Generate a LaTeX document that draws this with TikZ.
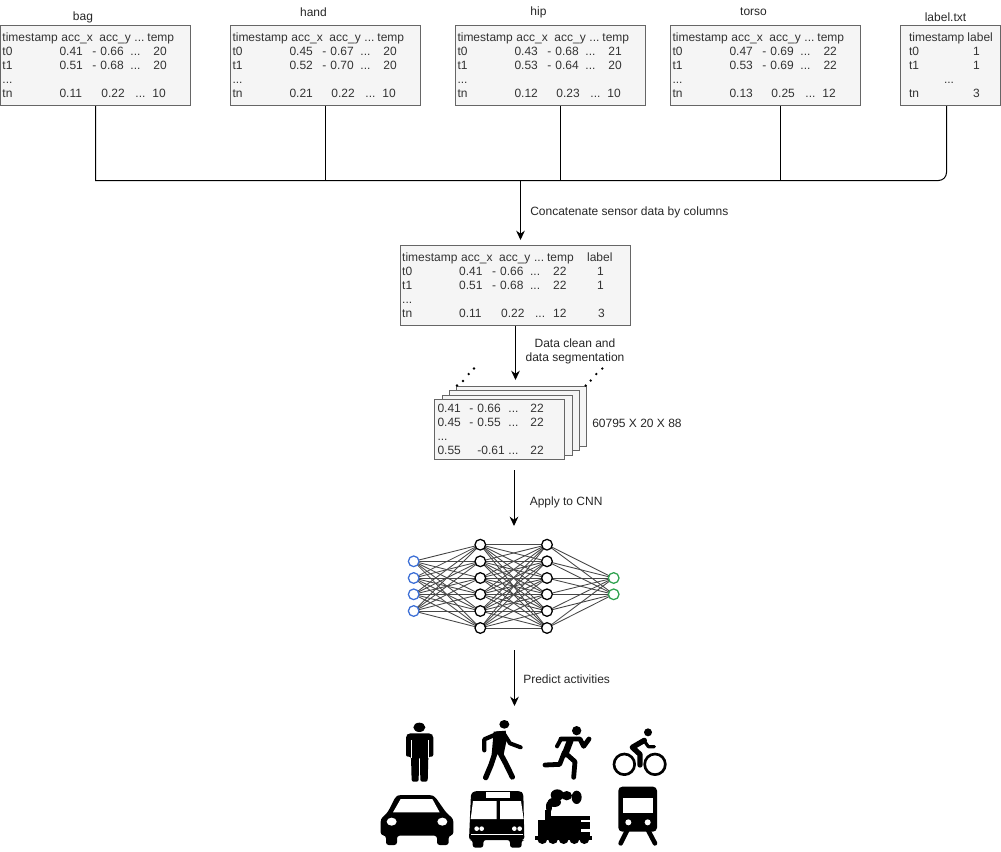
\documentclass[tikz,border=0pt]{standalone}
\usepackage{fontspec}
\setmainfont{Liberation Sans}
\usetikzlibrary{arrows.meta,calc}
\definecolor{inblue}{HTML}{3C6FD6}
\definecolor{outgreen}{HTML}{2FA24F}
\newdimen\pxu \pxu=.75pt
\newcommand\tp{\rule{0pt}{\dimexpr\ht\strutbox+2.25pt\relax}}
\newcommand\R[2]{\rlap{\hspace{#1\pxu}#2}}
\newcommand\hdr{\tp\strut\R{2}{timestamp}\R{61}{acc\_x}\R{99}{acc\_y}\R{134}{...}\R{147}{temp}}
\newcommand\vrow[4]{\strut\R{2}{#1}\R{59}{#2}\R{92}{#3}\R{130}{...}\R{153}{#4}}
\newcommand\trow[3]{\strut\R{2}{tn}\R{59}{#1}\R{101}{#2}\R{135}{...}\R{152}{#3}}
\newcommand\drow{\strut\R{2}{...}}
\newcommand\mhdr{\tp\strut\R{2}{timestamp}\R{61}{acc\_x}\R{99}{acc\_y}\R{134}{...}\R{147}{temp}\R{187}{label}}
\newcommand\mrow[5]{\strut\R{2}{#1}\R{59}{#2}\R{92}{#3}\R{130}{...}\R{153}{#4}\R{197}{#5}}
\newcommand\nrow[4]{\strut\R{2}{tn}\R{59}{#1}\R{101}{#2}\R{135}{...}\R{153}{#3}\R{198}{#4}}
\newcommand\lrow[3]{\strut\R{9}{#1}\R{#2}{#3}}
\newcommand\frow[3]{\strut\R{3}{#1}\R{35}{#2}\R{74}{...}\R{96}{#3}}
\tikzset{
 dbox/.style={draw=black!60,fill=black!4,line width=.75pt,inner sep=0pt,align=left,
   font=\fontsize{9}{10.5}\selectfont,text=black!80,minimum height=60pt},
 sbox/.style={dbox,minimum width=142.5pt,text width=142.5pt},
 captxt/.style={font=\fontsize{9}{10.5}\selectfont,inner sep=0pt,align=center,yshift=-.75pt,text=black!85},
 capl/.style={captxt,anchor=west},
 wire/.style={line width=.75pt,black},
 flow/.style={wire,-{Stealth[length=7pt,width=6.5pt]}},
 neuron/.style={circle,draw=black,fill=white,line width=.95pt,minimum size=8pt,inner sep=0pt},
 inn/.style={neuron,draw=inblue},
 outn/.style={neuron,draw=outgreen},
 syn/.style={line width=.65pt,black!72},
 ink/.style={fill=black,draw=none},
 limb/.style={draw=black,line cap=round,line join=round},
}
\begin{document}
\begin{tikzpicture}[x=.75pt,y=-.75pt]
\useasboundingbox (0,0) rectangle (1001,851);
% sensor tables
\node[sbox] (bag) at (95.5,65.5) {\hdr\\\vrow{t0}{0.41}{- 0.66}{20}\\\vrow{t1}{0.51}{- 0.68}{20}\\\drow\\\trow{0.11}{0.22}{10}};
\node[sbox] (hand) at (325.5,65.5) {\hdr\\\vrow{t0}{0.45}{- 0.67}{20}\\\vrow{t1}{0.52}{- 0.70}{20}\\\drow\\\trow{0.21}{0.22}{10}};
\node[sbox] (hip) at (550.5,65.5) {\hdr\\\vrow{t0}{0.43}{- 0.68}{21}\\\vrow{t1}{0.53}{- 0.64}{20}\\\drow\\\trow{0.12}{0.23}{10}};
\node[sbox] (torso) at (765.5,65.5) {\hdr\\\vrow{t0}{0.47}{- 0.69}{22}\\\vrow{t1}{0.53}{- 0.69}{22}\\\drow\\\trow{0.13}{0.25}{12}};
\node[dbox,minimum width=75pt,text width=75pt] (lab) at (950,65.5) {\tp\lrow{timestamp}{67.5}{label}\\\lrow{t0}{73}{1}\\\lrow{t1}{73}{1}\\\strut\R{44}{...}\\\lrow{tn}{73}{3}};
\node[captxt] (tbag) at (83,16) {bag};
\node[captxt] (thand) at (313.5,11) {hand};
\node[captxt] (thip) at (538.5,11) {hip};
\node[captxt] (ttorso) at (753.5,11) {torso};
\node[captxt] (tlab) at (945.5,16.5) {label.txt};
% trunk
\coordinate (jbag) at (95.5,180.5);
\coordinate (jhand) at (325.5,180.5);
\coordinate (jhip) at (560.5,180.5);
\coordinate (jtorso) at (780.5,180.5);
\coordinate (jlab) at (946.5,180.5);
\coordinate (jout) at (520.5,180.5);
\coordinate (jin) at (520.5,240);
\draw[wire] (bag.south) -- (jbag) [rounded corners=6pt] -- (jlab) -- (lab.south -| jlab);
\draw[wire] (hand.south) -- (jhand);
\draw[wire] (hip.south -| jhip) -- (jhip);
\draw[wire] (torso.south -| jtorso) -- (jtorso);
\draw[flow] (jout) -- (jin);
\node[capl] (tconcat) at (530,211) {Concatenate sensor data by columns};
% merged table
\node[dbox,minimum width=173pt,text width=173pt] (merged) at (515.5,285.5) {\mhdr\\\mrow{t0}{0.41}{- 0.66}{22}{1}\\\mrow{t1}{0.51}{- 0.68}{22}{1}\\\drow\\\nrow{0.11}{0.22}{12}{3}};
\coordinate (segin) at (515.5,380);
\draw[flow] (merged.south) -- (segin);
\node[captxt] (tclean) at (575,350) {Data clean and\\data segmentation};
% stack
\node[dbox,minimum width=97.5pt,minimum height=45pt] (s4) at (521,416) {};
\node[dbox,minimum width=97.5pt,minimum height=45pt] (s3) at (514,420.5) {};
\node[dbox,minimum width=97.5pt,minimum height=45pt] (s2) at (507,425) {};
\node[dbox,minimum width=97.5pt,text width=97.5pt,minimum height=45pt] (s1) at (499.5,429.5) {\tp\frow{0.41}{- 0.66}{22}\\\frow{0.45}{- 0.55}{22}\\\strut\R{3}{...}\\\strut\R{3}{0.55}\R{43}{-0.61}\R{74}{...}\R{96}{22}};
\foreach \n/\x/\y in {a/457/385.5,b/463/381,c/468.7/374,d/474/368.5,e/585.7/385.5,f/590.7/380.5,g/596.3/374,h/602.3/368.5}
  \fill (\x,\y) circle[radius=1.3];
\node[capl] (tshape) at (592,422) {60795 X 20 X 88};
\coordinate (cnna) at (514,470);
\coordinate (cnnb) at (514,526);
\draw[flow] (cnna) -- (cnnb);
\node[capl] (tcnn) at (529.5,501) {Apply to CNN};
% network
\foreach \i/\y in {1/561.3,2/578,3/594.3,4/611} \coordinate (i\i) at (413.7,\y);
\foreach \i/\y in {1/544.7,2/561.3,3/578,4/594.3,5/611,6/628} {\coordinate (a\i) at (480.3,\y); \coordinate (b\i) at (547,\y);}
\foreach \i/\y in {1/578,2/594.3} \coordinate (o\i) at (613.7,\y);
\foreach \i in {1,...,4} \foreach \j in {1,...,6} \draw[syn] (i\i) -- (a\j);
\foreach \i in {1,...,6} \foreach \j in {1,...,6} \draw[syn] (a\i) -- (b\j);
\foreach \i in {1,...,6} \foreach \j in {1,2} \draw[syn] (b\i) -- (o\j);
\foreach \i in {1,...,4} \node[inn] (ni\i) at (i\i) {};
\foreach \i in {1,...,6} {\node[neuron] (na\i) at (a\i) {}; \node[neuron] (nb\i) at (b\i) {};}
\foreach \i in {1,2} \node[outn] (no\i) at (o\i) {};
\coordinate (preda) at (514.5,650);
\coordinate (predb) at (514.5,706);
\draw[flow] (preda) -- (predb);
\node[capl] (tpred) at (523,678) {Predict activities};
% icons, left half
\begin{scope}[xshift=281.25pt,yshift=-536.25pt,x=.25pt,y=-.25pt]
 % standing person
 \fill[ink] (133,37) ellipse[x radius=18,y radius=14];
 \fill[ink,rounded corners=1.5pt] (93,125) -- (93,62) -- (100,55) -- (168,55) -- (175,62) -- (175,125) -- (160,125) -- (158,200) -- (136,200) -- (135,125) -- (132,125) -- (131,200) -- (110,200) -- (108,125) -- cycle;
 \draw[white,line width=.4pt] (108,76) -- (108,128);
 \draw[white,line width=.4pt] (160,76) -- (160,128);
 % walking person
 \fill[ink] (388,28) ellipse[x radius=15,y radius=13];
 \fill[ink] (356,50) -- (392,47) -- (395,75) -- (386,118) -- (350,118) -- cycle;
 \draw[limb,line width=3.2pt] (370,55) -- (328,73) -- (328,106);
 \draw[limb,line width=3pt] (388,58) -- (405,85) -- (437,97);
 \draw[limb,line width=4pt] (362,108) -- (348,150) -- (332,188);
 \draw[limb,line width=4pt] (372,108) -- (392,145) -- (412,186);
 % car
 \fill[ink,rounded corners=2pt] (17,360) -- (17,312) -- (38,292) -- (62,245) -- (72,240) -- (168,240) -- (180,245) -- (213,292) -- (235,312) -- (235,360) -- (221,362) -- (221,390) -- (186,390) -- (186,362) -- (66,362) -- (66,390) -- (33,390) -- (33,362) -- cycle;
 \fill[white] (54,292) -- (77,252) -- (172,252) -- (194,292) -- cycle;
 \fill[white] (50,320) ellipse[x radius=15,y radius=12];
 \fill[white] (202,320) ellipse[x radius=15,y radius=12];
 % bus
 \fill[ink,rounded corners=2pt] (282,375) -- (288,235) -- (300,228) -- (435,228) -- (445,235) -- (448,375) -- (440,375) -- (440,398) -- (405,398) -- (405,375) -- (325,375) -- (325,398) -- (293,398) -- (293,375) -- cycle;
 \fill[white] (332,232) rectangle (406,250);
 \fill[white] (294,258) -- (365,258) -- (365,312) -- (287,312) -- cycle;
 \fill[white] (375,258) -- (438,258) -- (446,312) -- (375,312) -- cycle;
 \foreach \x in {305,320,418,434} \fill[white] (\x,341) circle[radius=7];
 \fill[white] (288,356) rectangle (444,360);
\end{scope}
% icons, right half
\begin{scope}[xshift=393.75pt,yshift=-536.25pt,x=.25pt,y=-.25pt]
 % runner
 \fill[ink] (155,47) circle[radius=14];
 \draw[limb,line width=3.6pt] (108,72) -- (165,72) -- (176,94) -- (192,72);
 \draw[limb,line width=3pt] (108,72) -- (96,94);
 \draw[limb,line width=5pt] (136,76) -- (120,118);
 \draw[limb,line width=3.6pt] (118,112) -- (104,148) -- (60,150);
 \draw[limb,line width=3.6pt] (122,115) -- (150,140) -- (146,187);
 % cyclist
 \fill[ink] (369,52) circle[radius=12];
 \draw[limb,line width=2pt] (298,148) circle[radius=31];
 \draw[limb,line width=2pt] (390,148) circle[radius=31];
 \draw[limb,line width=4pt] (358,76) -- (322,97) -- (345,118) -- (345,150);
 \draw[limb,line width=2.4pt] (358,78) -- (370,95) -- (388,95);
 % steam locomotive
 \fill[ink] (97,240) ellipse[x radius=20,y radius=17];
 \fill[ink] (125,242) ellipse[x radius=16,y radius=14];
 \fill[ink] (155,247) ellipse[x radius=15,y radius=20];
 \fill[ink] (88,262) ellipse[x radius=20,y radius=14];
 \fill[ink] (72,275) ellipse[x radius=9,y radius=18];
 \fill[ink] (60,285) rectangle (78,318);
 \fill[ink] (40,314) rectangle (168,356);
 \fill[ink] (72,304) rectangle (196,314);
 \fill[ink] (168,322) rectangle (194,342);
 \fill[ink] (40,350) rectangle (196,368);
 \fill[ink] (30,362) rectangle (200,374);
 \foreach \x in {52,84,116,148,178} \fill[ink] (\x,372) circle[radius=15];
 % metro
 \fill[ink,rounded corners=3pt] (280,215) rectangle (396,350);
 \fill[white] (295,248) rectangle (384,295);
 \fill[white] (310,322) circle[radius=9];
 \fill[white] (368,322) circle[radius=9];
 \draw[limb,line width=3.5pt] (307,345) -- (287,385);
 \draw[limb,line width=3.5pt] (369,345) -- (390,385);
\end{scope}
\end{tikzpicture}
\end{document}
